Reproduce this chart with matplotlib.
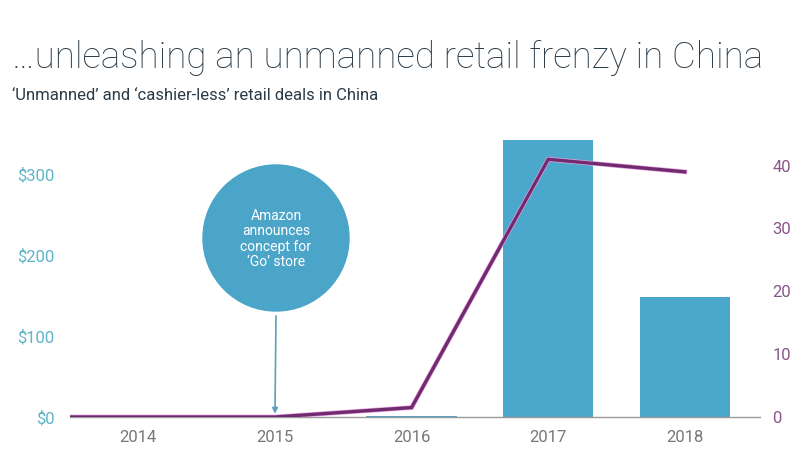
import matplotlib.pyplot as plt
import matplotlib.patches as mpatches
import numpy as np

years = ["2014", "2015", "2016", "2017", "2018"]
funding = [0, 0, 1, 342, 148]      # $ millions
deals = [0, 0, 1.5, 41, 39]        # number of deals
left_ticks = [0, 100, 200, 300]
left_labels = ["$0", "$100", "$200", "$300"]
right_ticks = [0, 10, 20, 30, 40]

bar_color = "#4ba7cb"
line_color = "#702b6f"

plt.rcParams["font.family"] = ["Roboto", "DejaVu Sans"]

fig = plt.figure(figsize=(8, 4.55), dpi=100)
ax = fig.add_axes([0.0875, 0.0835, 0.8625, 0.63])
x = np.arange(len(years))

ax.bar(x, funding, width=0.66, color=bar_color, zorder=2)
ax.set_xlim(-0.5, 4.55)
ax.set_ylim(0, 354)
ax.set_yticks(left_ticks)
ax.set_yticklabels(left_labels)
ax.set_xticks(x)
ax.set_xticklabels(years)
ax.tick_params(axis="y", length=0, pad=11, labelsize=12, labelcolor="#5db4c8")
ax.tick_params(axis="x", length=0, pad=9, labelsize=12, labelcolor="#777777")
for s in ["top", "left", "right"]:
    ax.spines[s].set_visible(False)
ax.spines["bottom"].set_color("#9a9a9a")
ax.spines["bottom"].set_linewidth(1)

ax2 = ax.twinx()
lx = np.r_[ax.get_xlim()[0], x]
ly = np.r_[deals[0], deals]
ax2.plot(lx, ly, color="#e6a3e4", linewidth=3.4, zorder=3, solid_joinstyle="miter")
ax2.plot(lx, ly, color=line_color, linewidth=2.4, zorder=4, solid_joinstyle="miter")
ax2.set_ylim(0, 45.6)
ax2.set_yticks(right_ticks)
ax2.tick_params(axis="y", length=0, pad=9, labelsize=12, labelcolor="#8a558a")
for s in ["top", "left", "right", "bottom"]:
    ax2.spines[s].set_visible(False)

# annotation bubble
circ = mpatches.Circle((2.76, 2.17), 0.73, transform=fig.dpi_scale_trans,
                       color="#4aa5c9", zorder=5)
fig.add_artist(circ)
fig.text(2.76, 2.16, "Amazon\nannounces\nconcept for\n\u2018Go\u2019 store",
         transform=fig.dpi_scale_trans, ha="center", va="center",
         color="white", fontsize=10, linespacing=1.15, zorder=6)
ax.annotate("", xy=(1, 4), xycoords="data",
            xytext=(2.76, 1.39), textcoords=fig.dpi_scale_trans,
            arrowprops=dict(arrowstyle="-|>", color="#5a9fbb", lw=1.2,
                            mutation_scale=8, shrinkA=0, shrinkB=0))

fig.text(0.015, 0.872, "\u2026unleashing an unmanned retail frenzy in China",
         fontsize=26.5, fontweight="light", color="#2b3b47", va="center")
fig.text(0.015, 0.79, "\u2018Unmanned\u2019 and \u2018cashier-less\u2019 retail deals in China",
         fontsize=12, color="#2b3b47", va="center")

fig.savefig("out.png", dpi=100, facecolor="white")
